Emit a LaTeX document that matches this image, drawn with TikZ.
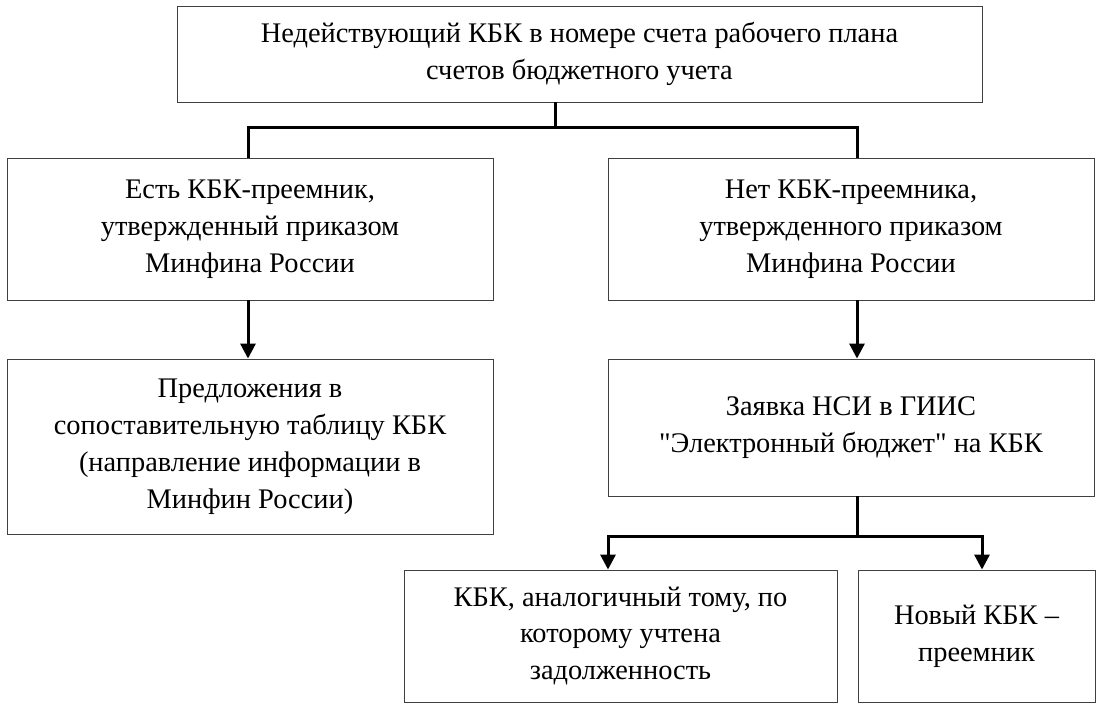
\documentclass[tikz,border=0pt]{standalone}
\usepackage{fontspec}
\setmainfont{Liberation Serif}[Ligatures=TeXOff]
\usetikzlibrary{arrows.meta}

\tikzset{
  box/.style={draw=black!75, line width=0.9bp, align=center, inner sep=0pt,
    font=\fontsize{28.5}{37}\selectfont},
  line/.style={line width=3bp, black},
  arr/.style={line, -{Triangle[width=15bp,length=15bp]}}
}

\begin{document}
\begin{tikzpicture}[x=1bp, y=-1bp]
    \useasboundingbox (0,0) rectangle (1102,708);

    % boxes
    \node[box, minimum width=805bp, minimum height=96bp] (top) at (579.5,54)
      {Недействующий КБК в номере счета рабочего плана\\счетов бюджетного учета};
    \node[box, minimum width=486bp, minimum height=142bp] (hasSucc) at (250,229)
      {Есть КБК-преемник,\\утвержденный приказом\\Минфина России};
    \node[box, minimum width=486bp, minimum height=142bp] (noSucc) at (851,229)
      {Нет КБК-преемника,\\утвержденного приказом\\Минфина России};
    \node[box, minimum width=486bp, minimum height=175bp] (proposal) at (250,446.5)
      {Предложения в\\сопоставительную таблицу КБК\\(направление информации в\\Минфин России)};
    \node[box, minimum width=486bp, minimum height=137bp] (request) at (851,427.5)
      {Заявка НСИ в ГИИС\\"Электронный бюджет" на КБК};
    \node[box, minimum width=433bp, minimum height=132bp] (analog) at (620.5,636)
      {КБК, аналогичный тому, по\\которому учтена\\задолженность};
    \node[box, minimum width=237bp, minimum height=132bp] (newKbk) at (976.5,636)
      {Новый КБК –\\преемник};

    % lines
    \coordinate (fork) at (555,128);
    \coordinate (lx) at (248,0);
    \coordinate (rx) at (857,0);
    \draw[line] (top.south -| fork) -- (fork) -| (hasSucc.north -| lx);
    \draw[line] (fork) -| (noSucc.north -| rx);
    \draw[arr] (hasSucc.south -| lx) -- (proposal.north -| lx);
    \draw[arr] (noSucc.south -| rx) -- (request.north -| rx);

    \coordinate (fork2) at (857,536);
    \coordinate (ax) at (608,0);
    \coordinate (bx) at (982,0);
    \draw[line] (request.south -| fork2) -- (fork2);
    \draw[arr] (fork2) -| (analog.north -| ax);
    \draw[arr] (fork2) -| (newKbk.north -| bx);
\end{tikzpicture}
\end{document}
